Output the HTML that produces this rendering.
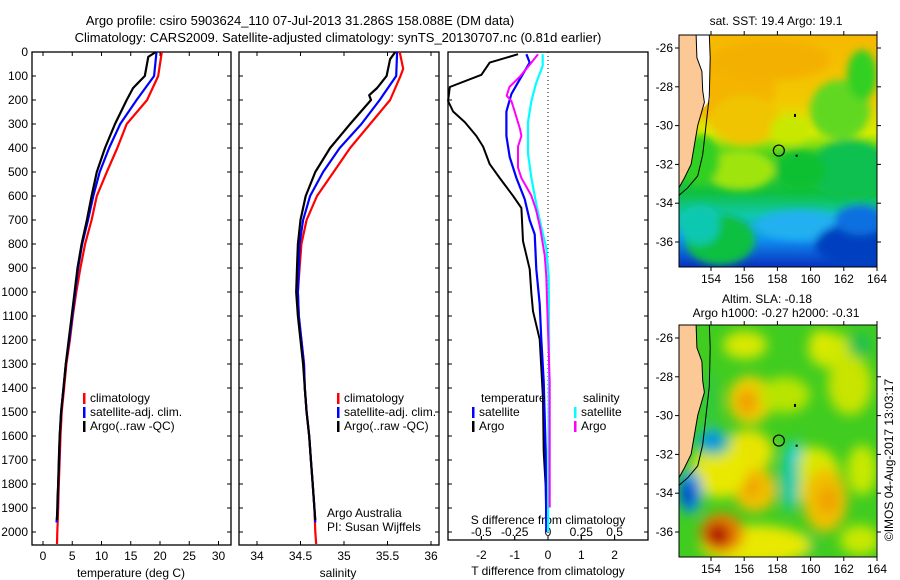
<!DOCTYPE html>
<html><head><meta charset="utf-8">
<style>
html,body{margin:0;padding:0;background:#fff;}
svg{display:block;font-family:"Liberation Sans",sans-serif;}
text{font-size:12px;fill:#000;}
</style></head>
<body>
<svg id="fig" width="900" height="580" viewBox="0 0 900 580">
<defs>
<filter id="blur6" x="-50%" y="-50%" width="200%" height="200%"><feGaussianBlur stdDeviation="6"/></filter>
<filter id="blur4" x="-50%" y="-50%" width="200%" height="200%"><feGaussianBlur stdDeviation="4"/></filter>
<clipPath id="clipM1"><rect x="679" y="35" width="198" height="232"/></clipPath>
<clipPath id="clipM2"><rect x="679" y="325" width="198" height="232"/></clipPath>
<linearGradient id="sstGrad" x1="0" y1="0" x2="0" y2="1">
<stop offset="0" stop-color="#f6b800"/><stop offset="0.28" stop-color="#f2c800"/>
<stop offset="0.42" stop-color="#d8ec00"/><stop offset="0.52" stop-color="#40d020"/>
<stop offset="0.68" stop-color="#10c040"/><stop offset="0.78" stop-color="#10c8b0"/>
<stop offset="0.88" stop-color="#1090f0"/><stop offset="1" stop-color="#0830c0"/>
</linearGradient>
</defs>
<g>
<text x="300" y="25" text-anchor="middle" style="font-size:13px">Argo profile: csiro 5903624_110 07-Jul-2013 31.286S 158.088E (DM data)</text>
<text x="338" y="42" text-anchor="middle" style="font-size:13px">Climatology: CARS2009. Satellite-adjusted climatology: synTS_20130707.nc (0.81d earlier)</text>
</g>
<g id="panels"></g>
<g id="maps"></g>
</svg>
<script>
// ---------- DATA ----------
const depthTicks = [0,100,200,300,400,500,600,700,800,900,1000,1100,1200,1300,1400,1500,1600,1700,1800,1900,2000];
const tempTicks = [0,5,10,15,20,25,30];
const salTicks = [34,34.5,35,35.5,36];
const tdiffTicks = [-2,-1,0,1,2];
const sdiffTicks = [-0.5,-0.25,0,0.25,0.5];

const tClimDepth = [0,100,200,300,400,500,600,700,800,900,1000,1100,1200,1300,1400,1500,1600,1700,1800,1900,2000,2050];
const tClimVal   = [20.3,19.7,17.8,14.3,12.7,10.9,9.2,8.3,7.2,6.4,5.7,5.1,4.6,4.0,3.6,3.2,3.0,2.85,2.7,2.6,2.45,2.4];
const tSatDepth  = [0,100,200,300,400,500,600,700,800,900,1000,1100,1200,1300,1400,1500,1600,1700,1800,1900,1960];
const tSatVal    = [19.4,19.0,16.0,13.2,11.3,9.7,8.6,7.7,6.7,6.0,5.5,5.0,4.5,3.9,3.5,3.1,2.85,2.75,2.6,2.5,2.3];
const tArgoDepth = [0,20,100,150,200,300,400,500,600,700,800,900,1000,1100,1200,1300,1400,1500,1600,1700,1800,1850,1950];
const tArgoVal   = [19.3,18.0,17.4,15.4,14.3,12.3,10.6,9.2,8.3,7.5,6.6,5.9,5.4,4.9,4.4,3.9,3.5,3.1,2.85,2.7,2.6,2.5,2.4];

const sClimDepth = [0,70,100,200,300,400,500,600,700,800,900,1000,1100,1200,1300,1400,1500,1600,1700,1800,1900,2000,2050];
const sClimVal   = [35.64,35.68,35.65,35.53,35.30,35.07,34.88,34.69,34.57,34.51,34.49,34.47,34.48,34.51,34.54,34.55,34.57,34.60,34.62,34.64,34.66,34.67,34.68];
const sSatDepth  = [0,100,200,300,400,500,600,700,800,900,1000,1100,1200,1300,1400,1500,1600,1700,1800,1900,1960];
const sSatVal    = [35.61,35.60,35.41,35.20,34.95,34.76,34.61,34.53,34.49,34.48,34.47,34.48,34.51,34.54,34.55,34.57,34.60,34.62,34.64,34.66,34.67];
const sArgoDepth = [0,30,100,150,180,200,300,400,500,600,700,800,900,1000,1100,1200,1300,1400,1500,1600,1700,1800,1900,1950];
const sArgoVal   = [35.59,35.53,35.49,35.38,35.29,35.31,35.07,34.84,34.67,34.56,34.50,34.47,34.46,34.45,34.47,34.50,34.53,34.55,34.57,34.60,34.62,34.64,34.66,34.67];

const dtArgoDepth = [9,44,95,146,204,248,292,350,394,467,525,599,650,788,905,1007,1080,1197,1314,1445,1664,1810,1956];
const dtArgoVal   = [-0.9,-1.75,-2.0,-2.95,-3.0,-2.85,-2.5,-2.15,-1.95,-1.75,-1.45,-1.05,-0.8,-0.75,-0.55,-0.5,-0.45,-0.25,-0.2,-0.15,-0.13,-0.07,-0.05];
const dtSatDepth  = [9,44,102,175,248,350,438,525,613,701,759,905,1051,1197,1372,1664,2000];
const dtSatVal    = [-0.65,-0.55,-0.8,-1.1,-1.25,-1.25,-1.15,-0.95,-0.7,-0.55,-0.4,-0.35,-0.25,-0.2,-0.13,-0.07,-0.05];
const dsSatDepth  = [9,58,131,204,292,423,525,628,730,818,934,1226,2000];
const dsSatVal    = [-0.04,-0.04,-0.09,-0.125,-0.15,-0.15,-0.125,-0.09,-0.05,-0.0125,0.005,0.008,0];
const dsArgoDepth = [9,44,102,146,182,204,248,321,350,394,482,525,599,657,730,847,934,1022,1372,1664,1898];
const dsArgoVal   = [-0.075,-0.125,-0.21,-0.29,-0.31,-0.275,-0.25,-0.21,-0.2,-0.225,-0.225,-0.2,-0.125,-0.09,-0.06,-0.025,-0.0125,-0.008,0.0125,0.0125,0.0125];

const lonTicks = [154,156,158,160,162,164];
const latTicks = [-26,-28,-30,-32,-34,-36];
const argoLon = [158.088];
const argoLat = [-31.286];

// ---------- AXES ----------
const NS = "http://www.w3.org/2000/svg";
const yD = d => 52 + d*0.24;
const xT = t => 43 + 5.85*t;
const xS = s => 257 + 87*(s-34);
const xDT = t => 548 + 33.3*t;
const xDS = s => 548 + 133.2*s;
const mapX = lon => 711 + 16.6*(lon-154);
const map1Y = lat => 48 + 19.4*(-26-lat);
const map2Y = lat => 338 + 19.4*(-26-lat);

function mk(tag, attrs, parent, txt){
  const e = document.createElementNS(NS, tag);
  for (const k in attrs) e.setAttribute(k, attrs[k]);
  if (txt !== undefined) e.textContent = txt;
  parent.appendChild(e);
  return e;
}
const panels = document.getElementById('panels');
const maps = document.getElementById('maps');

function frame(x0,x1,y0,y1,name){
  const g = mk('g',{},panels);
  
  
  mk('rect',{x:x0,y:y0,width:x1-x0,height:y1-y0,fill:'none',stroke:'#000','stroke-width':1.3},g);
  return g;
}
function depthTickMarks(g,x0,x1,y1){
  depthTicks.forEach(d=>{
    const y = yD(d); if (y>y1) return;
    mk('line',{x1:x0,y1:y,x2:x0+4,y2:y,stroke:'#000'},g);
    mk('line',{x1:x1,y1:y,x2:x1-4,y2:y,stroke:'#000'},g);
  });
}
function line(g, depths, vals, xf, color, w, name){
  let d = '';
  depths.forEach((dp,i)=>{ d += (i? 'L':'M') + xf(vals[i]).toFixed(1) + ',' + yD(dp).toFixed(1); });
  const p = mk('path',{d:d,fill:'none',stroke:color,'stroke-width':w,'stroke-linejoin':'round'},g);
  
  
}
function legend(g, x, y, items){
  items.forEach((it,i)=>{
    const yy = y + i*14;
    mk('rect',{x:x,y:yy-9,width:2.5,height:11,fill:it[1]},g);
    const t = mk('text',{x:x+7,y:yy},g,it[0]);
    
    
  });
}

// depth labels
const dl = mk('g',{},panels);


depthTicks.forEach(d=>{ mk('text',{x:28,y:yD(d)+4,'text-anchor':'end'},dl,String(d)); });

// Panel 1 temperature
const p1 = frame(32,231,52,545,'temperature-panel');
depthTickMarks(p1,32,231,545);
tempTicks.forEach(t=>{
  mk('line',{x1:xT(t),y1:52,x2:xT(t),y2:56,stroke:'#000'},p1);
  mk('line',{x1:xT(t),y1:545,x2:xT(t),y2:541,stroke:'#000'},p1);
  mk('text',{x:xT(t),y:560,'text-anchor':'middle'},p1,String(t));
});
mk('text',{x:131,y:577,'text-anchor':'middle'},p1,'temperature (deg C)');
line(p1,tClimDepth,tClimVal,xT,'#ff0000',2.2,'temp-climatology-line');
line(p1,tSatDepth,tSatVal,xT,'#0000ff',2.2,'temp-satellite-line');
line(p1,tArgoDepth,tArgoVal,xT,'#000000',2.2,'temp-argo-line');
legend(p1,83,402,[['climatology','#ff0000'],['satellite-adj. clim.','#0000ff'],['Argo(..raw -QC)','#000']]);

// Panel 2 salinity
const p2 = frame(239,439,52,545,'salinity-panel');
depthTickMarks(p2,239,439,545);
salTicks.forEach(s=>{
  mk('line',{x1:xS(s),y1:52,x2:xS(s),y2:56,stroke:'#000'},p2);
  mk('line',{x1:xS(s),y1:545,x2:xS(s),y2:541,stroke:'#000'},p2);
  mk('text',{x:xS(s),y:560,'text-anchor':'middle'},p2,String(s));
});
mk('text',{x:338,y:577,'text-anchor':'middle'},p2,'salinity');
line(p2,sClimDepth,sClimVal,xS,'#ff0000',2.2,'sal-climatology-line');
line(p2,sSatDepth,sSatVal,xS,'#0000ff',2.2,'sal-satellite-line');
line(p2,sArgoDepth,sArgoVal,xS,'#000000',2.2,'sal-argo-line');
legend(p2,337,402,[['climatology','#ff0000'],['satellite-adj. clim.','#0000ff'],['Argo(..raw -QC)','#000']]);
mk('text',{x:327,y:517},p2,'Argo Australia');
mk('text',{x:327,y:531},p2,'PI: Susan Wijffels');

// Panel 3 differences
const p3 = frame(448,648,52,540,'difference-panel');
depthTickMarks(p3,448,648,540);
mk('line',{x1:xDT(0),y1:52,x2:xDT(0),y2:540,stroke:'#000','stroke-dasharray':'1,3'},p3);
tdiffTicks.forEach(t=>{
  mk('line',{x1:xDT(t),y1:540,x2:xDT(t),y2:536,stroke:'#000'},p3);
  mk('text',{x:xDT(t),y:559,'text-anchor':'middle'},p3,String(t));
});
sdiffTicks.forEach(s=>{
  mk('line',{x1:xDS(s),y1:540,x2:xDS(s),y2:536,stroke:'#000'},p3);
  mk('text',{x:xDS(s),y:536,'text-anchor':'middle'},p3,String(s));
});
mk('text',{x:548,y:524,'text-anchor':'middle'},p3,'S difference from climatology');
mk('text',{x:548,y:575,'text-anchor':'middle'},p3,'T difference from climatology');
line(p3,dtArgoDepth,dtArgoVal,xDT,'#000000',2,'tdiff-argo-line');
line(p3,dtSatDepth,dtSatVal,xDT,'#0000ff',2.2,'tdiff-satellite-line');
line(p3,dsSatDepth,dsSatVal,xDS,'#00ffff',2.2,'sdiff-satellite-line');
line(p3,dsArgoDepth,dsArgoVal,xDS,'#ff00ff',2,'sdiff-argo-line');
mk('text',{x:481,y:402},p3,'temperature');
mk('text',{x:583,y:402},p3,'salinity');
legend(p3,472,416,[['satellite','#0000ff'],['Argo','#000']]);
legend(p3,574,416,[['satellite','#00ffff'],['Argo','#ff00ff']]);

// ---------- MAPS ----------
function coast(g, yf){
  const pts = [[152.07,-25.3],[153.1,-25.3],[153.15,-26.5],[153.45,-27.2],[153.5,-28.2],[153.6,-28.8],[153.2,-30.0],[153.0,-31.0],[152.8,-32.0],[152.4,-32.7],[152.07,-33.2]];
  let d = 'M'+pts.map(p=>mapX(p[0]).toFixed(1)+','+yf(p[1]).toFixed(1)).join('L')+'Z';
  mk('path',{d:d,fill:'#fcc896',stroke:'#000','stroke-width':1},g);
  const shelf = [[153.9,-25.3],[153.95,-26.5],[153.9,-28.5],[153.7,-30.0],[153.5,-31.5],[153.2,-32.6],[152.6,-33.2],[152.07,-33.6]];
  mk('path',{d:'M'+shelf.map(p=>mapX(p[0]).toFixed(1)+','+yf(p[1]).toFixed(1)).join('L'),fill:'none',stroke:'#000','stroke-width':1},g);
}
function mapAxes(g, y0, y1, yf){
  mk('rect',{x:679,y:y0,width:198,height:y1-y0,fill:'none',stroke:'#000','stroke-width':1},g);
  lonTicks.forEach(l=>{
    mk('line',{x1:mapX(l),y1:y0,x2:mapX(l),y2:y0-4,stroke:'#000'},g);
    mk('line',{x1:mapX(l),y1:y1,x2:mapX(l),y2:y1+4,stroke:'#000'},g);
    mk('text',{x:mapX(l),y:y1+16,'text-anchor':'middle'},g,String(l));
  });
  latTicks.forEach(l=>{
    mk('line',{x1:679,y1:yf(l),x2:675,y2:yf(l),stroke:'#000'},g);
    mk('line',{x1:877,y1:yf(l),x2:881,y2:yf(l),stroke:'#000'},g);
    mk('text',{x:673,y:yf(l)+4,'text-anchor':'end'},g,String(l));
  });
  argoLon.forEach((lon,i)=>{
    const c = mk('circle',{cx:mapX(lon),cy:yf(argoLat[i]),r:5.5,fill:'none',stroke:'#000','stroke-width':1.2},g);
    
    
  });
  mk('rect',{x:mapX(159),y:yf(-29.4),width:2,height:3,fill:'#000'},g);
  mk('rect',{x:mapX(159.1),y:yf(-31.5),width:2,height:2,fill:'#000'},g);
}
// map 1 SST
const m1 = mk('g',{},maps);


const m1c = mk('g',{'clip-path':'url(#clipM1)'},m1);
mk('rect',{x:679,y:35,width:198,height:232,fill:'url(#sstGrad)'},m1c);
const b1 = mk('g',{filter:'url(#blur4)'},m1c);
[[730,90,45,35,'#f4b400'],[770,60,60,20,'#f4b000'],[745,120,35,25,'#f0c400'],[790,130,20,15,'#c8e800'],[840,110,30,30,'#60d820'],[862,75,15,25,'#30d020'],[850,170,40,30,'#10c050'],[740,170,35,20,'#a0e410'],[700,160,20,25,'#30d020'],[800,225,45,15,'#20b0f0'],[855,245,40,22,'#0040c0'],[860,220,25,15,'#1070e0'],[720,240,35,25,'#10c040'],[700,225,20,20,'#10c8b0'],[800,170,25,20,'#10c030']]
.forEach(e=>mk('ellipse',{cx:e[0],cy:e[1],rx:e[2],ry:e[3],fill:e[4]},b1));
mk('path',{d:'M693,35 L710,35 L710,100 L702,110 L696,100Z',fill:'#fff'},m1c);
coast(m1c,map1Y);
mapAxes(m1,35,267,map1Y);
mk('text',{x:776,y:25,'text-anchor':'middle'},m1,'sat. SST: 19.4 Argo: 19.1');
// map 2 SLA
const m2 = mk('g',{},maps);


const m2c = mk('g',{'clip-path':'url(#clipM2)'},m2);
mk('rect',{x:679,y:325,width:198,height:232,fill:'#40cc20'},m2c);
const b2 = mk('g',{filter:'url(#blur6)'},m2c);
[[745,345,22,14,'#d8e800'],[830,350,22,18,'#d0e800'],[750,400,22,24,'#f0d000'],[747,402,11,13,'#f0a000'],[785,395,25,18,'#b8e400'],[850,385,22,30,'#c8e400'],[820,340,10,10,'#e0e800'],[860,345,12,12,'#20c050'],
 [748,452,25,22,'#e8e400'],[755,490,22,22,'#f0c000'],[750,486,10,10,'#f0a000'],[720,470,28,28,'#e8e800'],[812,475,28,28,'#d8e800'],[825,500,22,32,'#f0c000'],[828,500,10,14,'#f0a000'],[862,470,15,25,'#c8e800'],[860,540,20,15,'#c8e800'],[800,545,20,12,'#30c840'],
 [755,545,55,20,'#e8e800'],[722,533,22,20,'#e88000'],[718,535,12,12,'#b01000'],[713,442,18,14,'#10c0a0'],[712,440,10,7,'#1080f0'],[690,492,12,22,'#10a0f0'],[688,494,7,14,'#0030c0'],[790,480,9,32,'#10c8b0'],[794,452,7,12,'#10d0d0'],[710,400,8,30,'#30c840']]
.forEach(e=>mk('ellipse',{cx:e[0],cy:e[1],rx:e[2],ry:e[3],fill:e[4]},b2));
coast(m2c,map2Y);
mapAxes(m2,325,557,map2Y);
mk('text',{x:767,y:303,'text-anchor':'middle'},m2,'Altim. SLA: -0.18');
mk('text',{x:776,y:317,'text-anchor':'middle'},m2,'Argo h1000: -0.27 h2000: -0.31');
mk('text',{x:893,y:460,'text-anchor':'middle',transform:'rotate(-90 893 460)'},m2,'©IMOS 04-Aug-2017 13:03:17');
</script>
</body></html>
